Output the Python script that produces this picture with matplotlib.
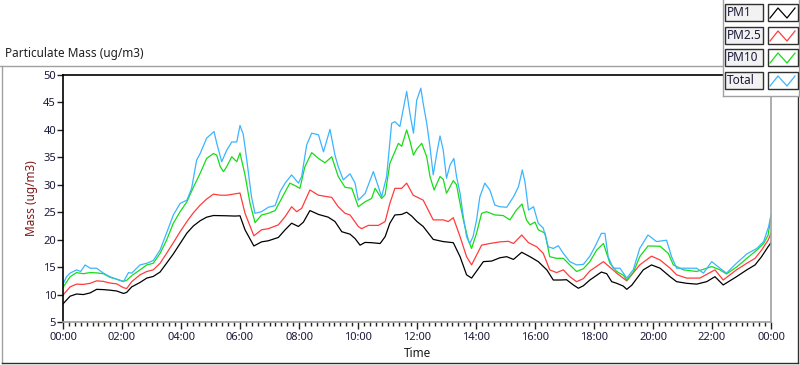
import matplotlib
matplotlib.use("Agg")
import matplotlib.pyplot as plt
from matplotlib.lines import Line2D
from matplotlib.patches import Rectangle
from matplotlib.ticker import MultipleLocator, FuncFormatter

plt.rcParams['font.family'] = ['Noto Sans', 'DejaVu Sans']

# ---------------- data (time in hours, mass in ug/m3) ----------------
series_names = ["PM1", "PM2.5", "PM10", "Total"]

pm1_t = [0, 0.24, 0.46, 0.69, 0.92, 1.14, 1.37, 1.59, 1.82, 2.05, 2.16, 2.33, 2.61, 2.84, 3.06, 3.29, 3.51, 3.74,
         3.97, 4.2, 4.42, 4.65, 4.87, 5.1, 5.55, 5.83, 6.0, 6.17, 6.47, 6.73, 6.96, 7.3, 7.53, 7.75, 7.98, 8.15, 8.37,
         8.66, 8.99, 9.22, 9.45, 9.73, 9.9, 10.07, 10.24, 10.46, 10.75, 10.92, 11.08, 11.25, 11.48, 11.65, 11.82, 12.0,
         12.21, 12.55, 12.89, 13.23, 13.46, 13.68, 13.85, 14.25, 14.53, 14.81, 15.04, 15.27, 15.55, 15.83, 16.11, 16.4,
         16.62, 16.85, 17.07, 17.3, 17.47, 17.64, 17.86, 18.25, 18.43, 18.6, 18.77, 18.99, 19.11, 19.28, 19.67, 19.95,
         20.24, 20.58, 20.8, 21.14, 21.48, 21.82, 22.1, 22.38, 22.83, 23.18, 23.46, 23.68, 23.9, 24.0]
pm1_v = [8.3, 9.7, 10.1, 10.0, 10.3, 10.95, 10.9, 10.8, 10.65, 10.2, 10.4, 11.4, 12.2, 13.0, 13.3, 14.1, 15.7, 17.4,
         19.3, 21.2, 22.5, 23.45, 24.1, 24.4, 24.35, 24.3, 24.35, 21.8, 18.85, 19.6, 19.8, 20.4, 21.8, 23.0, 22.4, 23.2,
         25.3, 24.6, 24.1, 23.3, 21.45, 21.0, 20.2, 19.0, 19.5, 19.45, 19.3, 20.55, 23.0, 24.5, 24.6, 25.0, 24.3, 23.3,
         22.4, 20.05, 19.65, 19.45, 16.9, 13.6, 13.0, 16.0, 16.1, 16.7, 16.9, 16.4, 17.7, 16.9, 16.0, 14.5,
         12.65, 12.65, 12.7, 11.75, 11.15, 11.6, 12.65, 14.1, 13.8, 12.35, 12.05, 11.55, 10.95, 11.7, 14.5, 15.4,
         14.8, 13.25, 12.35, 12.05, 11.9, 12.35, 13.25, 11.75, 13.25, 14.5, 15.4, 16.9, 18.7, 19.45]

pm25_t = [0, 0.24, 0.46, 0.69, 0.92, 1.14, 1.37, 1.59, 1.82, 2.05, 2.16, 2.33, 2.61, 2.84, 3.06, 3.29, 3.51, 3.74,
          3.97, 4.2, 4.42, 4.65, 4.87, 5.1, 5.33, 5.55, 5.78, 6.0, 6.17, 6.47, 6.73, 6.96, 7.3, 7.53, 7.75, 7.92, 8.09,
          8.37, 8.66, 9.11, 9.33, 9.56, 9.73, 10.01, 10.12, 10.35, 10.69, 10.92, 11.08, 11.25, 11.48, 11.65, 11.87,
          12.21, 12.55, 12.89, 13.06, 13.23, 13.46, 13.68, 13.85, 14.19, 14.47, 14.81, 15.1, 15.27, 15.55, 15.78, 16.06,
          16.28, 16.5, 16.73, 16.96, 17.18, 17.41, 17.64, 17.86, 18.32, 18.77, 19.11, 19.55, 19.95, 20.24, 20.58, 20.8,
          21.14, 21.59, 22.1, 22.38, 22.83, 23.18, 23.46, 23.68, 23.9, 24.0]
pm25_v = [9.9, 11.4, 11.9, 11.85, 12.05, 12.5, 12.4, 12.1, 11.95, 11.25, 11.1, 12.35, 13.6, 14.2, 14.5, 15.7, 17.5, 19.45,
          21.45, 23.3, 24.9, 26.3, 27.4, 28.3, 28.1, 28.1, 28.3, 28.5, 24.8, 20.7, 21.8, 22.0, 22.7, 24.2, 26.0, 25.1, 25.7,
          29.05, 28.1, 27.7, 26.0, 24.8, 24.5, 22.4, 22.0, 22.6, 22.6, 23.3, 26.6, 29.35, 29.35, 30.3, 28.1,
          27.2, 23.6, 23.6, 23.3, 24.0, 20.55, 16.9, 15.4, 19.0, 19.3, 19.6, 19.7, 19.3, 20.85, 19.45, 18.7,
          17.5, 14.5, 14.0, 14.5, 13.25, 12.35, 12.9, 14.3, 16.0, 13.9, 12.5, 15.4, 17.0, 16.3, 14.8, 13.6,
          13.0, 13.0, 14.5, 12.65, 14.5, 15.7, 16.6, 18.1, 19.9, 21.15]

pm10_t = [0, 0.24, 0.46, 0.69, 0.92, 1.14, 1.37, 1.59, 1.82, 2.05, 2.16, 2.33, 2.61, 2.84, 3.06, 3.29, 3.51, 3.74,
          3.97, 4.2, 4.42, 4.65, 4.87, 5.1, 5.21, 5.33, 5.44, 5.55, 5.72, 5.89, 6.0, 6.17, 6.34, 6.51, 6.73, 6.96, 7.19,
          7.41, 7.69, 7.92, 8.03, 8.2, 8.43, 8.66, 8.88, 9.11, 9.33, 9.56, 9.79, 10.01, 10.24, 10.46, 10.58, 10.8, 10.92,
          11.08, 11.37, 11.48, 11.65, 11.76, 11.88, 11.99, 12.16, 12.33, 12.44, 12.58, 12.78, 12.89, 13.0, 13.23, 13.34,
          13.46, 13.57, 13.74, 13.85, 14.02, 14.19, 14.36, 14.64, 14.92, 15.15, 15.37, 15.56, 15.71, 15.83, 16.0, 16.11,
          16.34, 16.5, 16.73, 16.96, 17.18, 17.41, 17.64, 17.86, 18.09, 18.32, 18.54, 18.77, 19.0, 19.11, 19.33, 19.55,
          19.83, 20.24, 20.52, 20.69, 21.03, 21.48, 21.82, 21.99, 22.27, 22.49, 22.83, 23.18, 23.52, 23.75, 23.9, 24.0]
pm10_v = [11.3, 13.25, 14.0, 13.8, 14.0, 13.95, 13.8, 13.15, 12.8, 12.4, 12.6, 13.45, 14.5, 15.4, 15.7, 17.5, 19.9, 23.0,
          25.1, 26.9, 29.55, 32.1, 34.8, 35.7, 35.4, 33.3, 32.4, 33.3, 35.1, 34.2, 35.8, 31.8, 26.6, 23.1, 24.5, 24.8, 25.3,
          27.5, 30.3, 29.7, 29.35, 33.3, 35.85, 34.8, 34.0, 35.1, 31.5, 29.55, 29.35, 26.0, 26.9, 27.5, 29.35, 27.5, 28.2,
          33.9, 37.55, 37.0, 40.0, 38.0, 35.4, 36.5, 37.55, 35.1, 31.5, 29.05, 31.5, 31.0, 28.45, 30.75, 30.0,
          26.6, 23.6, 19.9, 18.4, 21.2, 24.8, 25.1, 24.5, 24.4, 23.6, 25.4, 26.5, 23.6, 22.7, 23.2, 21.8,
          21.2, 16.9, 16.6, 16.6, 15.4, 14.2, 14.7, 16.0, 18.1, 19.3, 15.7, 14.2, 13.5, 12.65, 14.0, 16.9,
          18.85, 18.8, 17.5, 15.4, 14.5, 14.2, 14.8, 15.1, 14.5, 13.75, 15.0, 16.6, 18.1, 19.3, 20.8, 24.2]

total_t = [0, 0.12, 0.24, 0.46, 0.6, 0.75, 0.92, 1.14, 1.37, 1.59, 1.82, 2.05, 2.22, 2.33, 2.61, 2.84, 3.06, 3.29,
           3.51, 3.74, 3.97, 4.2, 4.36, 4.53, 4.65, 4.87, 5.12, 5.21, 5.38, 5.55, 5.72, 5.89, 6.0, 6.11, 6.23, 6.39,
           6.51, 6.73, 6.96, 7.19, 7.36, 7.53, 7.75, 7.98, 8.09, 8.26, 8.43, 8.66, 8.83, 9.05, 9.22, 9.33, 9.5, 9.73,
           9.9, 10.01, 10.24, 10.52, 10.69, 10.8, 10.97, 11.14, 11.25, 11.42, 11.65, 11.76, 11.88, 11.99, 12.13, 12.21,
           12.33, 12.44, 12.55, 12.67, 12.78, 12.89, 13.0, 13.12, 13.25, 13.34, 13.46, 13.57, 13.68, 13.79, 13.9, 14.02,
           14.13, 14.3, 14.47, 14.64, 14.81, 15.04, 15.27, 15.44, 15.57, 15.66, 15.78, 15.95, 16.11, 16.28, 16.45, 16.62,
           16.79, 16.96, 17.18, 17.41, 17.64, 17.86, 18.03, 18.25, 18.37, 18.48, 18.65, 18.88, 19.11, 19.33, 19.55,
           19.83, 20.12, 20.46, 20.63, 20.8, 21.14, 21.48, 21.71, 21.99, 22.27, 22.49, 22.83, 23.18, 23.52, 23.75,
           23.92, 24.0]
total_v = [11.9, 13.25, 13.9, 14.5, 14.2, 15.4, 14.8, 14.8, 13.9, 13.25, 12.8, 12.35, 14.0, 13.9, 15.4, 15.7, 16.2, 18.1,
           21.2, 24.5, 26.6, 27.2, 29.35, 34.5, 35.7, 38.5, 39.7, 37.6, 34.2, 36.3, 37.8, 37.8, 40.8, 39.2, 34.5, 27.8,
           24.8, 25.1, 25.9, 26.2, 28.75, 30.3, 31.8, 30.3, 31.5, 37.25, 39.4, 39.1, 36.0, 40.1, 35.4, 33.3, 30.9, 32.0,
           30.3, 27.2, 28.4, 32.4, 29.65, 27.8, 31.5, 41.2, 41.5, 40.6, 47.0, 43.0, 39.4, 45.4, 47.6, 44.8,
           41.2, 36.9, 31.8, 35.7, 38.9, 36.3, 31.2, 33.6, 34.8, 31.5, 28.45, 24.2, 20.55, 19.3, 20.55, 23.6,
           27.8, 30.3, 29.05, 26.3, 26.0, 25.9, 27.8, 29.65, 32.7, 30.5, 25.4, 26.0, 23.0, 22.1, 18.7, 18.4,
           18.9, 17.5, 16.0, 15.4, 15.5, 17.0, 18.7, 21.15, 21.15, 16.9, 14.8, 14.8, 13.0, 14.5, 18.4,
           20.85, 19.65, 19.9, 16.9, 14.8, 14.8, 14.8, 13.9, 16.0, 14.8, 13.9, 15.7, 17.4, 18.4, 19.65,
           22.4, 24.5]

series_colors = ["#000000", "#ff3c3c", "#16dc16", "#3cb4ff"]

# ---------------- figure ----------------
W, H = 800, 365
fig = plt.figure(figsize=(W / 100, H / 100), dpi=100)
fig.patch.set_facecolor("white")


def fx(x):
    return x / W


def fy(y):
    return 1 - y / H


ax_l, ax_r, ax_t, ax_b = 63, 771, 75, 322
ax = fig.add_axes([fx(ax_l), fy(ax_b), (ax_r - ax_l) / W, (ax_b - ax_t) / H])

for t, v, c in zip([pm1_t, pm25_t, pm10_t, total_t], [pm1_v, pm25_v, pm10_v, total_v], series_colors):
    ax.plot(t, v, color=c, lw=0.9)

ax.set_xlim(0, 24)
ax.set_ylim(5, 50)
ax.xaxis.set_major_locator(MultipleLocator(2))
ax.xaxis.set_minor_locator(MultipleLocator(0.2))
ax.xaxis.set_major_formatter(FuncFormatter(lambda v, p: "%02d:00" % (int(round(v)) % 24)))
ax.yaxis.set_major_locator(MultipleLocator(5))

ax.tick_params(axis="x", which="major", length=5, width=1, color="#202020", labelsize=8, pad=2,
               labelcolor="#1a1a3a")
ax.tick_params(axis="x", which="minor", length=3, width=1, color="#202020")
ax.tick_params(axis="y", which="major", length=4, width=1, color="#202020", labelsize=8, pad=1,
               labelcolor="#1a1a3a")

ax.spines["left"].set_color("black")
ax.spines["top"].set_color("black")
ax.spines["bottom"].set_color("#a0a0a0")
ax.spines["right"].set_color("#a0a0a0")
for s in ax.spines.values():
    s.set_linewidth(1.2)

ax.set_xlabel("Time", fontsize=8.5, color="#1a1a1a", labelpad=3)
ax.set_ylabel("Mass (ug/m3)", fontsize=8.5, color="#801818", labelpad=4)

# ---------------- chart frame ----------------
def fline(xs, ys, color, lw=1.0, z=1):
    fig.add_artist(Line2D([fx(x) for x in xs], [fy(y) for y in ys], color=color, lw=lw, zorder=z))


fig.text(fx(5), fy(53), "Particulate Mass (ug/m3)", fontsize=8.5, color="#202020", ha="left", va="center")
fline([0, 722], [65.5, 65.5], "#a0a0a0")
fline([1.5, 1.5], [65.5, 363], "#a0a0a0")
fline([1.5, 798], [363, 363], "#303030")
fline([798, 798], [96, 363], "#303030")

# ---------------- legend ----------------
fig.add_artist(Rectangle((fx(723), fy(96)), (799 - 723) / W, 96 / H, facecolor="white", edgecolor="none",
                         zorder=5))
fline([722.5, 722.5], [0, 96], "#a0a0a0", z=6)
fline([722.5, 799], [96, 96], "#a0a0a0", z=6)
fline([799, 799], [0, 96], "#a0a0a0", z=6)

row_tops = [4, 27, 49, 72]
for name, c, top in zip(series_names, series_colors, row_tops):
    bottom = top + 17
    fig.add_artist(Rectangle((fx(725), fy(bottom)), 38 / W, 17 / H, facecolor="#f2f2f2",
                             edgecolor="#303030", lw=1.0, zorder=6))
    fig.text(fx(727), fy((top + bottom) / 2), name, fontsize=8.5, color="#1a1a3a", ha="left", va="center",
             zorder=7)
    fig.add_artist(Rectangle((fx(768), fy(bottom)), 30 / W, 17 / H, facecolor="white",
                             edgecolor="#303030", lw=1.0, zorder=6))
    fig.add_artist(Line2D([fx(770), fx(778), fx(787), fx(795)],
                          [fy(bottom - 3), fy(top + 4), fy(bottom - 3), fy(top + 4)], color=c, lw=0.9,
                          zorder=7))

fig.savefig("out.png", dpi=100, facecolor="white")
